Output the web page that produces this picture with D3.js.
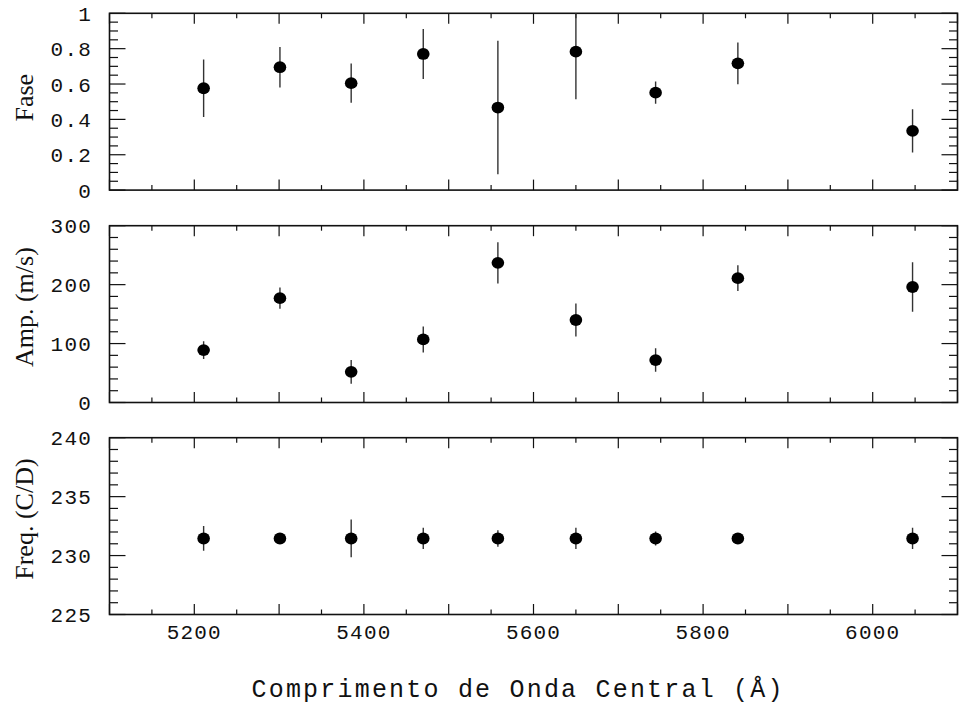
<!DOCTYPE html>
<html>
<head>
<meta charset="utf-8">
<script src="https://cdn.jsdelivr.net/npm/d3@7"></script>
<style>
  body { margin: 0; background: #fff; }
  svg { display: block; }
</style>
</head>
<body>
<svg id="chart" width="959" height="709"></svg>
<script>
// central wavelength of each band (Å)
const wavelengths = [5211, 5301, 5385, 5470, 5558, 5650, 5744, 5841, 6047];

const phase = [0.576, 0.695, 0.605, 0.770, 0.467, 0.783, 0.551, 0.717, 0.335];
const phaseErr = [0.162, 0.114, 0.111, 0.141, 0.378, 0.269, 0.063, 0.118, 0.123];

const amp = [89, 177, 52, 107, 237, 140, 72, 211, 196];
const ampErr = [15, 18, 20, 22, 35, 28, 20, 22, 42];

const freq = [231.45, 231.45, 231.45, 231.45, 231.45, 231.45, 231.45, 231.45, 231.45];
const freqErr = [1.05, 0.4, 1.6, 0.9, 0.7, 0.9, 0.6, 0.4, 0.9];

const xTicks = [5200, 5400, 5600, 5800, 6000];
const phaseTicks = [0, 0.2, 0.4, 0.6, 0.8, 1];
const ampTicks = [0, 100, 200, 300];
const freqTicks = [225, 230, 235, 240];

const panels = [
    { label: 'Fase', values: phase, errs: phaseErr, domain: [0, 1], ticks: phaseTicks, minor: 0.05, fmt: d => d === 0 || d === 1 ? String(d) : d.toFixed(1), top: 13.3 },
    { label: 'Amp. (m/s)', values: amp, errs: ampErr, domain: [0, 300], ticks: ampTicks, minor: 20, fmt: d => String(d), top: 225.7 },
    { label: 'Freq. (C/D)', values: freq, errs: freqErr, domain: [225, 240], ticks: freqTicks, minor: 1, fmt: d => String(d), top: 437.7 }
];

const svg = d3.select('#chart');
const left = 109.5, right = 957.5, panelH = 176.8;
const ink = '#111';
const monoFont = '"Liberation Mono", "DejaVu Sans Mono", monospace';
const serifFont = '"Liberation Serif", "DejaVu Serif", serif';

const x = d3.scaleLinear().domain([5100, 6100]).range([left, right]);
const xMinor = d3.range(5100, 6100.1, 50);

panels.forEach((p, i) => {
    const y = d3.scaleLinear().domain(p.domain).range([p.top + panelH, p.top]);
    const g = svg.append('g');
    const bottom = p.top + panelH;

    // y ticks, left and right
    const yMinor = d3.range(p.domain[0], p.domain[1] + p.minor / 2, p.minor);
    yMinor.forEach(v => {
        const major = p.ticks.some(t => Math.abs(t - v) < 1e-9);
        const len = major ? 16 : 8.5;
        g.append('line')
            .attr('x1', left).attr('x2', left + len)
            .attr('y1', y(v)).attr('y2', y(v))
            .attr('stroke', ink).attr('stroke-width', 1.2);
        g.append('line')
            .attr('x1', right).attr('x2', right - len)
            .attr('y1', y(v)).attr('y2', y(v))
            .attr('stroke', ink).attr('stroke-width', 1.2);
    });

    // x ticks, top and bottom
    xMinor.forEach(v => {
        const major = v % 100 === 0;
        const len = major ? 10.5 : 5;
        g.append('line')
            .attr('x1', x(v)).attr('x2', x(v))
            .attr('y1', p.top).attr('y2', p.top + len)
            .attr('stroke', ink).attr('stroke-width', 1.2);
        g.append('line')
            .attr('x1', x(v)).attr('x2', x(v))
            .attr('y1', bottom).attr('y2', bottom - len)
            .attr('stroke', ink).attr('stroke-width', 1.2);
    });

    g.append('rect')
        .attr('x', left).attr('y', p.top)
        .attr('width', right - left).attr('height', panelH)
        .attr('fill', 'none')
        .attr('stroke', ink)
        .attr('stroke-width', 1.6);

    g.selectAll('.ylab')
        .data(p.ticks)
        .enter()
        .append('text')
        .attr('x', 92)
        .attr('y', d => y(d))
        .attr('dy', '0.36em')
        .attr('text-anchor', 'end')
        .attr('font-family', monoFont)
        .attr('font-size', 21)
        .attr('letter-spacing', 1.2)
        .attr('fill', ink)
        .text(p.fmt);

    g.append('text')
        .attr('transform', `translate(33,${p.top + panelH / 2 - (i === 0 ? 4 : 7)}) rotate(-90)`)
        .attr('text-anchor', 'middle')
        .attr('font-family', serifFont)
        .attr('font-size', 26)
        .attr('fill', ink)
        .text(p.label);

    // error bars, clipped to the panel
    const clipId = 'clip' + i;
    svg.append('clipPath').attr('id', clipId)
        .append('rect')
        .attr('x', left).attr('y', p.top)
        .attr('width', right - left).attr('height', panelH);

    const marks = g.append('g').attr('clip-path', `url(#${clipId})`);
    marks.selectAll('line.err')
        .data(wavelengths)
        .enter()
        .append('line')
        .attr('class', 'err')
        .attr('x1', d => x(d)).attr('x2', d => x(d))
        .attr('y1', (d, j) => y(p.values[j] - p.errs[j]))
        .attr('y2', (d, j) => y(p.values[j] + p.errs[j]))
        .attr('stroke', '#333')
        .attr('stroke-width', 1.4);

    marks.selectAll('ellipse')
        .data(wavelengths)
        .enter()
        .append('ellipse')
        .attr('cx', d => x(d))
        .attr('cy', (d, j) => y(p.values[j]))
        .attr('rx', 6.3)
        .attr('ry', 5.9)
        .attr('fill', '#000');

    if (i === panels.length - 1) {
        g.selectAll('.xlab')
            .data(xTicks)
            .enter()
            .append('text')
            .attr('x', d => x(d))
            .attr('y', bottom + 24)
            .attr('text-anchor', 'middle')
            .attr('font-family', monoFont)
            .attr('font-size', 21)
            .attr('letter-spacing', 1.2)
            .attr('fill', ink)
            .text(d => d);
    }
});

svg.append('text')
    .attr('x', 251.5)
    .attr('y', 697)
    .attr('textLength', 531)
    .attr('lengthAdjust', 'spacing')
    .attr('font-family', monoFont)
    .attr('font-size', 25)
    .attr('fill', ink)
    .text('Comprimento de Onda Central (Å)');
</script>
</body>
</html>
